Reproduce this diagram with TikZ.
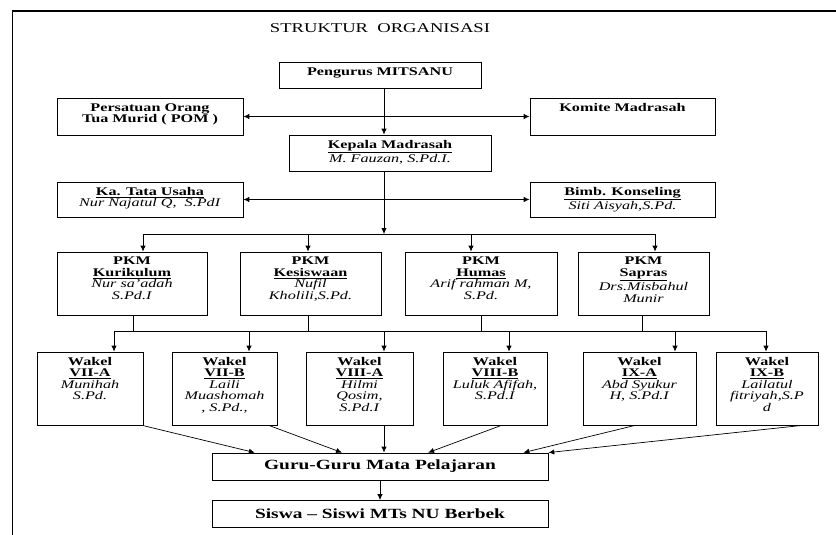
\documentclass[tikz,border=0pt]{standalone}
\usepackage{fontspec}
\setmainfont{Liberation Serif}[FakeStretch=1.38]
\usetikzlibrary{arrows.meta,calc}

\newcommand{\cell}[3]{\parbox[c][#2][t]{#1}{\centering\vspace*{4.5pt}#3}}

\tikzset{
  box/.style={draw, line width=0.7pt, inner sep=0pt, font=\fontsize{10}{9.8}\selectfont},
  bigbox/.style={draw, line width=0.7pt, inner sep=0pt, font=\fontsize{12}{12}\selectfont\bfseries},
  arr/.style={-{Latex[length=5pt,width=4.5pt]}, line width=0.6pt},
  arrboth/.style={{Latex[length=5pt,width=4.5pt]}-{Latex[length=5pt,width=4.5pt]}, line width=0.6pt},
}

\begin{document}
\begin{tikzpicture}[x=0.03cm, y=-0.03cm]
   %\draw[gray!30, very thin] (0,0) grid[xstep=1cm, ystep=1cm] (836,535);
   \useasboundingbox (0,0) rectangle (836,535);
   \draw[line width=0.9pt] (836,11) -- (12.5,11) -- (12.5,535);

   \node (title) at (380,28) {\fontsize{11.5}{12}\selectfont STRUKTUR\ \ ORGANISASI};

   \node [box] (pengurus) at (380,75) {\cell{6.06cm}{0.78cm}{\textbf{Pengurus MITSANU}}};
   \node [box] (pom) at (150,116.5) {\cell{5.58cm}{1.11cm}{\textbf{Persatuan Orang\\Tua Murid ( POM )}}};
   \node [box] (komite) at (622.5,116.5) {\cell{5.55cm}{1.11cm}{\textbf{Komite Madrasah}}};
   \node [box] (kepala) at (390,153) {\cell{6.06cm}{1.08cm}{\textbf{\underline{Kepala Madrasah}}\\\textit{M. Fauzan, S.Pd.I.}}};
   \node [box] (tu) at (150,199.5) {\cell{5.58cm}{1.05cm}{\textbf{\underline{Ka. Tata Usaha}}\\\textit{Nur Najatul Q,\ \ S.PdI}}};
   \node [box] (bk) at (622.5,199.5) {\cell{5.55cm}{1.05cm}{\textbf{\underline{Bimb. Konseling}}\\\textit{Siti Aisyah,S.Pd.}}};

   \node [box] (kur) at (132,283.5) {\cell{4.5cm}{1.89cm}{\textbf{PKM\\\underline{Kurikulum}}\\\textit{Nur sa’adah\\S.Pd.I}}};
   \node [box] (kes) at (310.5,283.5) {\cell{4.23cm}{1.89cm}{\textbf{PKM\\\underline{Kesiswaan}}\\\textit{Nufil\\Kholili,S.Pd.}}};
   \node [box] (hum) at (481,283.5) {\cell{4.56cm}{1.89cm}{\textbf{PKM\\\underline{Humas}}\\\textit{Arif rahman M,\\S.Pd.}}};
   \node [box] (sap) at (643.5,283.5) {\cell{3.93cm}{1.89cm}{\textbf{PKM\\\underline{Sapras}}\\\textit{Drs.Misbahul\\Munir}}};

   \node [box] (wa) at (90,388.5) {\cell{3.18cm}{2.19cm}{\textbf{Wakel\\\underline{VII-A}}\\\textit{Munihah\\S.Pd.}}};
   \node [box] (wb) at (224.5,388.5) {\cell{3.15cm}{2.19cm}{\textbf{Wakel\\\underline{VII-B}}\\\textit{Laili\\Muashomah\\, S.Pd.,}}};
   \node [box] (wc) at (359.5,388.5) {\cell{3.21cm}{2.19cm}{\textbf{Wakel\\\underline{VIII-A}}\\\textit{Hilmi\\Qosim,\\S.Pd.I}}};
   \node [box] (wd) at (495,388.5) {\cell{3.12cm}{2.19cm}{\textbf{Wakel\\\underline{VIII-B}}\\\textit{Luluk Afifah,\\S.Pd.I}}};
   \node [box] (we) at (639.5,388.5) {\cell{3.39cm}{2.19cm}{\textbf{Wakel\\\underline{IX-A}}\\\textit{Abd Syukur\\H, S.Pd.I}}};
   \node [box] (wf) at (767,388.5) {\cell{3.06cm}{2.19cm}{\textbf{Wakel\\\underline{IX-B}}\\\textit{Lailatul\\fitriyah,S.P\\d}}};

   \node [bigbox, minimum width=10.08cm, minimum height=0.81cm] (guru) at (380,466.5) {Guru-Guru Mata Pelajaran};
   \node [bigbox, minimum width=10.08cm, minimum height=0.81cm] (siswa) at (380,514) {Siswa – Siswi MTs NU Berbek};

   \coordinate (mid) at (384,0);
   \draw [arr] (pengurus.south -| mid) -- (kepala.north -| mid);
   \draw [arrboth] (pom) -- (komite);
   \draw [arrboth] (tu) -- (bk);

   \coordinate (b0) at (384,234);
   \coordinate (b1) at (143,234);
   \coordinate (b2) at (308,234);
   \coordinate (b3) at (471,234);
   \coordinate (b4) at (655,234);
   \draw [arr] (kepala.south -| mid) -- (b0);
   \draw [line width=0.6pt] (b1) -- (b4);
   \foreach \b/\n in {b1/kur, b2/kes, b3/hum, b4/sap}
      \draw [arr] (\b) -- (\b |- \n.north);

   \coordinate (c1) at (133,331);
   \coordinate (c2) at (308,331);
   \coordinate (c3) at (481,331);
   \coordinate (c4) at (642,331);
   \foreach \c/\n in {c1/kur, c2/kes, c3/hum, c4/sap}
      \draw [line width=0.6pt] (\n.south -| \c) -- (\c);

   \coordinate (w1) at (114,331);
   \coordinate (w2) at (249,331);
   \coordinate (w3) at (384,331);
   \coordinate (w4) at (509,331);
   \coordinate (w5) at (675,331);
   \coordinate (w6) at (766,331);
   \draw [line width=0.6pt] (w1) -- (w6);
   \foreach \w/\n in {w1/wa, w2/wb, w3/wc, w4/wd, w5/we, w6/wf}
      \draw [arr] (\w) -- (\w |- \n.north);

   \draw [arr] ($(wa.south west)!0.99!(wa.south east)$) -- ($(guru.north west)!0.128!(guru.north east)$);
   \draw [arr] ($(wb.south west)!0.92!(wb.south east)$) -- ($(guru.north west)!0.387!(guru.north east)$);
   \draw [arr] (w3 |- wc.south) -- (w3 |- guru.north);
   \draw [arr] ($(wd.south west)!0.56!(wd.south east)$) -- ($(guru.north west)!0.643!(guru.north east)$);
   \draw [arr] ($(we.south west)!0.46!(we.south east)$) -- ($(guru.north west)!0.926!(guru.north east)$);
   \draw [arr] ($(wf.south west)!0.84!(wf.south east)$) -- (guru.north east);

   \draw [arr] (guru) -- (siswa);

\end{tikzpicture}
\end{document}
